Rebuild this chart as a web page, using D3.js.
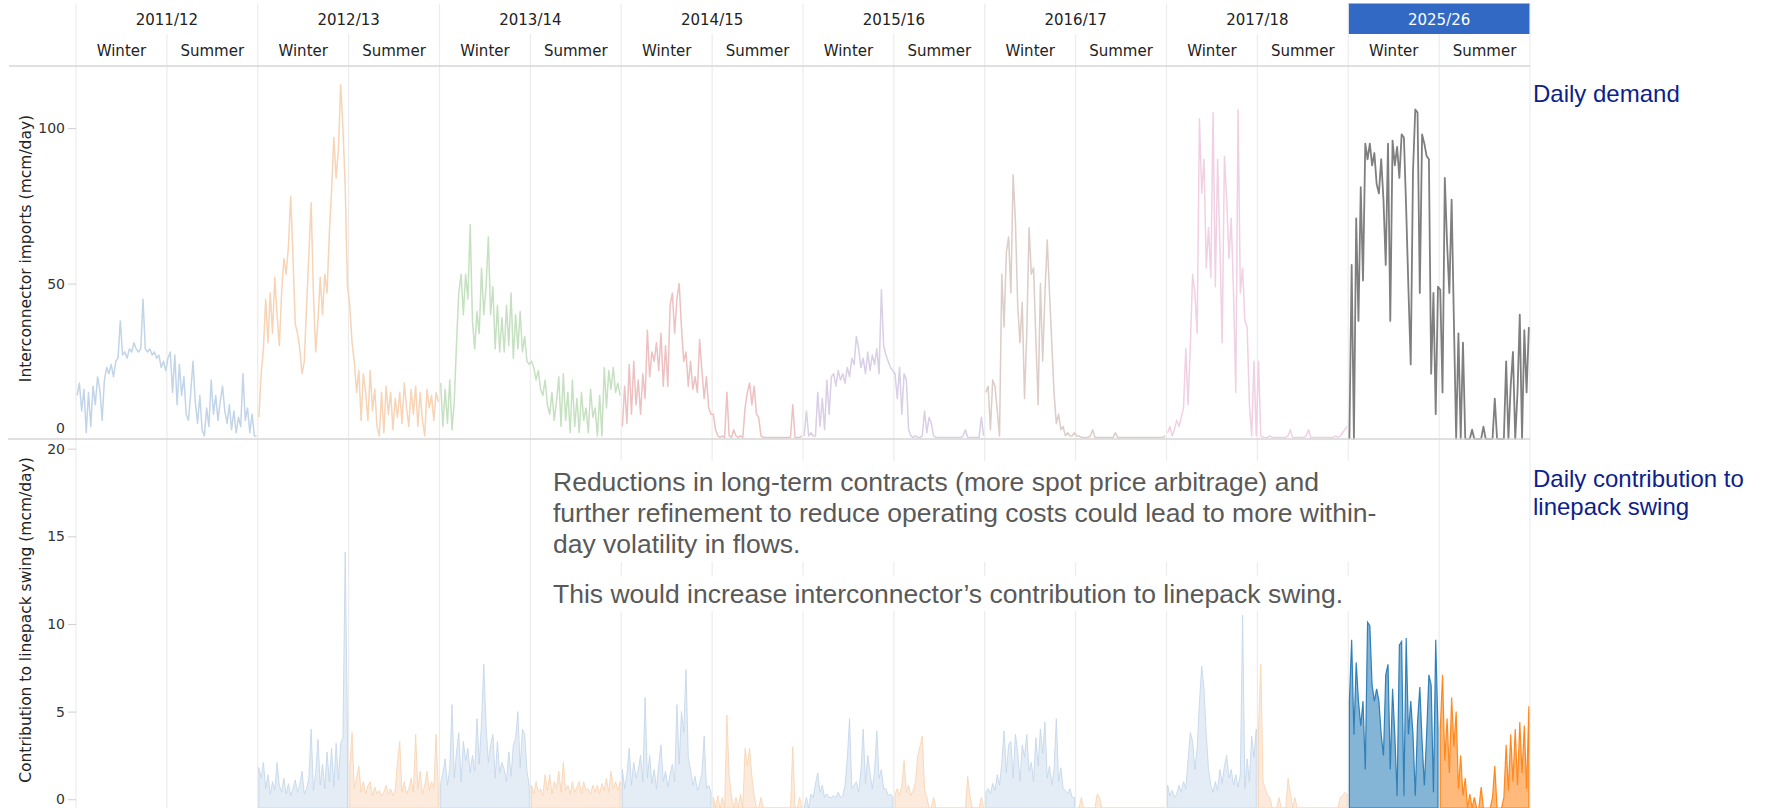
<!DOCTYPE html>
<html>
<head>
<meta charset="utf-8">
<script src="https://cdn.jsdelivr.net/npm/d3@7"></script>
<style>
  body { margin: 0; background: #fff; }
  svg { display: block; }
</style>
</head>
<body>
<svg></svg>
<script>
const years = ["2011/12", "2012/13", "2013/14", "2014/15", "2015/16", "2016/17", "2017/18", "2025/26"];
const seasons = ["Winter", "Summer"];
const importTicks = [0, 50, 100];
const swingTicks = [0, 5, 10, 15, 20];

// interconnector imports (mcm/day), ~40 samples per season
const imports2011W = [14, 18, 9, 16, 2, 15, 4, 17, 11, 20, 16, 6, 19, 23, 21, 24, 20, 25, 26, 38, 27, 28, 26, 29, 28, 31, 29, 28, 29, 45, 29, 28, 29, 27, 28, 26, 27, 23, 25, 22];
const imports2011S = [26, 28, 15, 27, 11, 24, 14, 20, 8, 6, 15, 25, 12, 5, 14, 3, 1, 10, 4, 19, 8, 14, 6, 12, 17, 9, 5, 11, 3, 9, 2, 7, 4, 21, 6, 10, 2, 8, 1, 1];
const imports2012W = [7, 21, 29, 45, 31, 47, 34, 52, 40, 30, 47, 58, 53, 62, 78, 59, 37, 34, 29, 21, 25, 43, 59, 76, 47, 28, 38, 52, 40, 53, 47, 66, 80, 97, 84, 93, 114, 100, 81, 49];
const imports2012S = [43, 31, 25, 15, 22, 6, 21, 15, 6, 22, 9, 16, 4, 1, 15, 2, 17, 8, 15, 3, 13, 7, 15, 5, 18, 10, 4, 16, 8, 17, 4, 15, 6, 1, 16, 10, 14, 6, 15, 12];
const imports2013W = [18, 4, 16, 5, 19, 3, 12, 31, 47, 53, 40, 53, 45, 69, 38, 29, 41, 34, 55, 40, 49, 65, 40, 49, 29, 43, 28, 39, 28, 43, 30, 47, 26, 40, 29, 41, 28, 33, 25, 24];
const imports2013S = [25, 23, 19, 22, 16, 14, 19, 11, 8, 15, 6, 12, 20, 4, 21, 6, 15, 2, 19, 4, 13, 2, 15, 6, 10, 2, 16, 7, 10, 1, 14, 1, 23, 10, 22, 16, 23, 15, 18, 14];
const imports2014W = [4, 17, 5, 24, 8, 25, 11, 19, 8, 21, 13, 35, 20, 28, 25, 31, 22, 34, 17, 30, 17, 43, 47, 34, 45, 50, 36, 25, 28, 17, 25, 16, 20, 15, 32, 22, 13, 20, 10, 8];
const imports2014S = [8, 3, 1, 0.5, 1, 0.5, 15, 1, 0.5, 3, 1, 0.5, 1, 0.5, 10, 15, 18, 11, 17, 8, 7, 1, 0.5, 0.5, 0.5, 0.5, 0.5, 0.5, 0.5, 0.5, 0.5, 0.5, 0.5, 0.5, 0.5, 11, 0.5, 0.5, 0.5, 1];
const imports2015W = [1, 9, 1, 2, 1, 1, 15, 4, 13, 3, 19, 8, 20, 21, 17, 22, 19, 21, 18, 23, 20, 26, 24, 33, 29, 23, 26, 21, 28, 22, 27, 24, 29, 21, 48, 30, 27, 25, 23, 22];
const imports2015S = [21, 13, 23, 8, 21, 19, 3, 1, 0.5, 1, 0.5, 0.5, 1, 9, 2, 7, 5, 1, 0.5, 0.5, 0.5, 0.5, 0.5, 0.5, 0.5, 0.5, 0.5, 0.5, 0.5, 0.5, 1, 3, 0.5, 0.5, 0.5, 0.5, 0.5, 0.5, 7, 1];
const imports2016W = [15, 17, 3, 19, 17, 9, 1, 53, 36, 60, 65, 47, 85, 70, 43, 31, 44, 13, 34, 68, 53, 55, 32, 11, 50, 25, 47, 64, 47, 31, 15, 5, 8, 3, 4, 1, 2, 1, 1, 2];
const imports2016S = [1, 1, 0.5, 0.5, 0.5, 0.5, 1, 3, 0.5, 0.5, 0.5, 0.5, 0.5, 0.5, 0.5, 0.5, 0.5, 2, 0.5, 0.5, 0.5, 0.5, 0.5, 0.5, 0.5, 0.5, 0.5, 0.5, 0.5, 0.5, 0.5, 0.5, 0.5, 0.5, 0.5, 0.5, 0.5, 0.5, 0.5, 1];
const imports2017W = [2, 4, 1, 3, 6, 4, 7, 10, 29, 11, 30, 53, 47, 34, 103, 79, 90, 55, 68, 52, 105, 49, 90, 62, 31, 91, 77, 58, 71, 47, 15, 106, 47, 55, 38, 36, 11, 1, 25, 1];
const imports2017S = [25, 1, 0.5, 0.5, 0.5, 1, 0.5, 0.5, 0.5, 0.5, 0.5, 0.5, 0.5, 1, 3, 0.5, 0.5, 0.5, 0.5, 0.5, 0.5, 1, 3, 0.5, 0.5, 0.5, 0.5, 0.5, 0.5, 0.5, 0.5, 0.5, 0.5, 0.5, 1, 0.5, 1, 2, 3, 4];
const imports2025W = [0, 56, 0, 71, 38, 81, 51, 95, 90, 95, 88, 92, 82, 79, 90, 77, 56, 95, 38, 96, 88, 94, 84, 98, 97, 74, 48, 24, 86, 106, 105, 47, 98, 95, 91, 90, 21, 47, 8, 49];
const imports2025S = [48, 15, 84, 63, 47, 77, 38, 0, 34, 0, 31, 0, 0, 0, 3, 0, 0, 0, 0, 4, 0, 0, 0, 0, 13, 0, 0, 0, 0, 25, 0, 17, 28, 0, 15, 40, 0, 35, 15, 36];

// contribution to linepack swing (mcm/day); no values for 2011/12
const swing2011W = [];
const swing2011S = [];
const swing2012W = [1.8, 1.2, 2.1, 0.6, 1.4, 0.3, 1.0, 0.5, 2.1, 0.8, 0.4, 1.2, 0.3, 0.9, 0.2, 0.6, 1.1, 0.4, 0.8, 1.6, 0.3, 0.6, 1.2, 4.0, 0.5, 1.5, 3.4, 0.8, 2.0, 0.6, 2.7, 1.0, 2.9, 0.7, 3.2, 1.1, 3.2, 3.5, 14.1, 3.7];
const swing2012S = [1.8, 3.8, 0.6, 1.2, 1.9, 0.4, 1.0, 0.3, 0.8, 1.0, 0.2, 0.7, 0.3, 0.5, 0.2, 0.4, 0.8, 0.3, 0.6, 0.2, 0.5, 2.1, 3.3, 0.4, 1.0, 0.3, 0.6, 1.2, 0.4, 3.7, 0.6, 1.6, 0.3, 0.8, 1.6, 0.5, 1.0, 0.6, 3.7, 0.5];
const swing2013W = [0.9, 1.5, 2.3, 0.8, 1.7, 5.4, 1.2, 2.7, 3.8, 1.0, 3.3, 2.2, 2.9, 1.5, 2.5, 1.6, 4.6, 2.0, 4.4, 7.7, 4.2, 2.1, 3.1, 3.7, 1.2, 3.3, 1.5, 2.1, 1.7, 1.0, 2.7, 1.3, 3.1, 3.5, 5.0, 1.8, 4.0, 3.7, 1.6, 0.8];
const swing2013S = [0.8, 0.3, 1.0, 0.4, 0.6, 0.2, 1.4, 0.5, 1.4, 0.3, 1.0, 0.6, 1.6, 0.4, 2.1, 0.5, 0.8, 0.3, 1.0, 0.4, 0.7, 1.0, 0.3, 1.0, 0.5, 0.6, 0.3, 0.8, 0.4, 0.8, 0.3, 0.9, 0.5, 1.2, 0.4, 1.6, 0.6, 1.0, 0.5, 1.0];
const swing2014W = [1.7, 0.6, 1.4, 2.9, 0.8, 2.1, 1.2, 1.7, 2.5, 1.0, 5.8, 1.2, 2.5, 0.9, 1.7, 0.6, 2.0, 3.1, 1.0, 1.6, 0.7, 1.4, 2.0, 1.0, 5.4, 2.0, 5.0, 3.8, 7.4, 2.4, 1.7, 0.8, 1.3, 0.5, 0.9, 1.5, 3.6, 0.6, 0.8, 0.4];
const swing2014S = [0.1, 0, 0.2, 0, 0.1, 0, 4.8, 1.4, 0.2, 0, 0.1, 0, 0.3, 0, 2.9, 1.9, 2.9, 1.3, 0.2, 0, 0, 0.1, 0, 0, 0, 0, 0, 0, 0, 0, 0, 0, 0, 0, 0, 3.0, 0, 0, 0.1, 0];
const swing2015W = [0, 0.1, 0, 0.3, 0.1, 0.9, 1.5, 0.4, 0.8, 0.1, 0.3, 0.1, 0.1, 0.2, 0.1, 0.4, 0.1, 0.2, 0.8, 2.3, 4.6, 0.6, 0.8, 1.0, 0.4, 1.6, 4.0, 0.9, 2.5, 1.5, 0.6, 1.6, 3.9, 1.2, 1.7, 0.6, 0.6, 0.2, 0.3, 0.1];
const swing2015S = [0.3, 0.6, 0.2, 0.8, 2.2, 0.4, 0.8, 0.2, 0.5, 1.0, 2.5, 3.0, 3.6, 0.6, 0.1, 0, 0, 0.1, 0, 0, 0, 0, 0, 0, 0, 0, 0, 0, 0, 0, 0, 0, 1.3, 0.2, 0, 0, 0, 0, 0.1, 0];
const swing2016W = [0.4, 0.6, 0.3, 0.9, 0.5, 1.4, 0.8, 2.1, 3.9, 1.5, 3.1, 3.3, 1.2, 3.7, 2.7, 1.0, 3.1, 2.4, 3.7, 1.6, 2.1, 1.0, 3.5, 1.9, 4.0, 2.6, 4.4, 1.2, 1.9, 0.8, 1.7, 4.6, 1.0, 1.8, 0.6, 0.5, 0.3, 0.6, 0.1, 0.1];
const swing2016S = [0, 0, 0.1, 0, 0, 0, 0, 0, 0, 0.3, 0.1, 0, 0, 0, 0, 0, 0, 0, 0, 0, 0, 0, 0, 0, 0, 0, 0, 0, 0, 0, 0, 0, 0, 0, 0, 0, 0, 0, 0, 0];
const swing2017W = [0.8, 0.2, 0.5, 0.1, 0.3, 0.8, 0.4, 1.0, 0.6, 2.3, 3.8, 3.3, 1.7, 2.9, 5.5, 7.6, 6.3, 3.7, 1.7, 0.8, 0.4, 1.0, 0.5, 1.7, 0.9, 1.9, 2.5, 1.2, 1.7, 0.8, 1.4, 0.7, 1.4, 10.5, 0.6, 2.3, 1.0, 3.6, 2.4, 4.0];
const swing2017S = [4.0, 7.7, 1.0, 0.6, 0.2, 0.1, 0, 0, 0, 0.1, 0, 0, 0, 1.2, 0.4, 0, 0.1, 0, 0, 0, 0, 0, 0, 0, 0, 0, 0, 0, 0, 0, 0, 0, 0, 0, 0, 0, 0.1, 0.2, 0.4, 0.3];
const swing2025W = [5.6, 9.1, 3.7, 7.8, 5.6, 4.2, 5.6, 1.7, 10.1, 9.9, 6.5, 5.6, 6.3, 5.6, 3.7, 2.5, 7.1, 7.7, 1.7, 6.3, 3.7, 0.2, 8.8, 9.0, 0.2, 9.2, 3.7, 5.6, 3.7, 0.2, 4.4, 6.4, 3.3, 0.8, 3.7, 7.1, 6.5, 0.4, 9.1, 4.0];
const swing2025S = [4.0, 7.1, 2.2, 4.6, 1.5, 5.8, 3.0, 5.0, 0.6, 2.5, 0.2, 1.2, 0, 0.3, 0, 0.1, 0, 0, 0.7, 0, 0, 0, 0, 0.1, 1.9, 0, 0, 0, 0.1, 3.1, 0.5, 3.7, 1.0, 4.0, 0.8, 4.4, 1.5, 4.2, 0.6, 5.3];

const note1 = [
  "Reductions in long-term contracts (more spot price arbitrage) and",
  "further refinement to reduce operating costs could lead to more within-",
  "day volatility in flows."
];
const note2 = ["This would increase interconnector\u2019s contribution to linepack swing."];

// built from the arrays above
const importRows = [
  [imports2011W, imports2011S], [imports2012W, imports2012S], [imports2013W, imports2013S],
  [imports2014W, imports2014S], [imports2015W, imports2015S], [imports2016W, imports2016S],
  [imports2017W, imports2017S], [imports2025W, imports2025S]
];
const swingRows = [
  [swing2011W, swing2011S], [swing2012W, swing2012S], [swing2013W, swing2013S],
  [swing2014W, swing2014S], [swing2015W, swing2015S], [swing2016W, swing2016S],
  [swing2017W, swing2017S], [swing2025W, swing2025S]
];

const yearColors = ["#c2d5e8", "#f7d4b5", "#c6e1c1", "#edc1c2", "#d9cfe6", "#dccdc8", "#f1d0e4", "#7f7f7f"];
const GRID = "#ececec";
const RULE = "#d6d6d6";
const UI_FONT = "DejaVu Sans, Verdana, sans-serif";
const NOTE_FONT = "Liberation Sans, Arial, sans-serif";

const width = 1765, height = 808;
const plotLeft = 76, plotRight = 1530;
const headTop = 3.5, seasonTop = 34, headBottom = 66, panelSplit = 439;

const svg = d3.select("svg").attr("width", width).attr("height", height);

const seasonKeys = years.flatMap(y => seasons.map(s => y + "|" + s));
const x = d3.scaleBand().domain(seasonKeys).range([plotLeft, plotRight]);
const bw = x.bandwidth();
const yTop = d3.scaleLinear().domain([0, 120]).range([panelSplit, headBottom]);
const yBot = d3.scaleLinear().domain([-0.5, 20.55]).range([height, panelSplit]);

function samplePoints(key, values) {
  const step = bw / values.length;
  return values.map((v, i) => ({ x: x(key) + (i + 0.5) * step, v }));
}

// highlighted year in header
const lastYear = years[years.length - 1];
svg.append("rect")
  .attr("x", x(lastYear + "|Winter"))
  .attr("y", headTop)
  .attr("width", bw * 2)
  .attr("height", seasonTop - headTop)
  .attr("fill", "#3169c4");

// vertical grid / header dividers
const bounds = seasonKeys.map(k => x(k)).concat([plotRight]);
svg.append("g").selectAll("line")
  .data(bounds)
  .enter().append("line")
  .attr("x1", d => d).attr("x2", d => d)
  .attr("y1", (d, i) => i % 2 === 0 ? headTop : seasonTop)
  .attr("y2", height)
  .attr("stroke", GRID)
  .attr("stroke-width", 1.2);

// header texts
svg.append("g").selectAll("text")
  .data(years)
  .enter().append("text")
  .attr("x", d => x(d + "|Winter") + bw)
  .attr("y", 25)
  .attr("text-anchor", "middle")
  .attr("font-family", UI_FONT)
  .attr("font-size", 15)
  .attr("fill", (d, i) => i === years.length - 1 ? "#ffffff" : "#222")
  .text(d => d);

svg.append("g").selectAll("text")
  .data(seasonKeys)
  .enter().append("text")
  .attr("x", d => x(d) + bw / 2)
  .attr("y", 56)
  .attr("text-anchor", "middle")
  .attr("font-family", UI_FONT)
  .attr("font-size", 15)
  .attr("fill", "#222")
  .text(d => d.split("|")[1]);

// horizontal rules
svg.append("line")
  .attr("x1", 9).attr("x2", plotRight)
  .attr("y1", headBottom).attr("y2", headBottom)
  .attr("stroke", RULE).attr("stroke-width", 1.5);

// annotation backgrounds (they hide the grid lines behind the text)
svg.append("rect").attr("x", 545).attr("y", 461).attr("width", 862).attr("height", 101).attr("fill", "#fff");
svg.append("rect").attr("x", 545).attr("y", 576).attr("width", 805).attr("height", 35).attr("fill", "#fff");

// bottom panel: contribution to linepack swing
const swingArea = d3.area()
  .x(d => d.x)
  .y0(yBot.range()[0])
  .y1(d => d.v > 0 ? yBot(d.v) : yBot.range()[0]);

swingRows.forEach((pair, yi) => {
  pair.forEach((vals, si) => {
    if (!vals.length) return;
    const last = yi === years.length - 1;
    const color = last ? (si === 0 ? "#1f77b4" : "#ff7f0e") : (si === 0 ? "#c3d6ea" : "#f8d3b2");
    const pts = samplePoints(years[yi] + "|" + seasons[si], vals);
    svg.append("path")
      .datum(pts)
      .attr("d", swingArea)
      .attr("fill", color)
      .attr("fill-opacity", last ? 0.55 : 0.45)
      .attr("stroke", color)
      .attr("stroke-opacity", last ? 0.9 : 0.85)
      .attr("stroke-width", last ? 1.2 : 1);
  });
});

// top panel: interconnector imports
const importLine = d3.line().x(d => d.x).y(d => yTop(d.v));
importRows.forEach((pair, yi) => {
  const pts = samplePoints(years[yi] + "|Winter", pair[0])
    .concat(samplePoints(years[yi] + "|Summer", pair[1]));
  svg.append("path")
    .datum(pts)
    .attr("d", importLine)
    .attr("fill", "none")
    .attr("stroke", yearColors[yi])
    .attr("stroke-width", yi === years.length - 1 ? 1.8 : 1.5)
    .attr("stroke-linejoin", "round");
});

svg.append("line")
  .attr("x1", 8).attr("x2", plotRight)
  .attr("y1", panelSplit).attr("y2", panelSplit)
  .attr("stroke", RULE).attr("stroke-width", 1.5);

// axes
function styleAxis(g) {
  g.select(".domain").remove();
  g.selectAll(".tick line").attr("stroke", "#cfcfcf");
  g.selectAll(".tick text")
    .attr("font-family", UI_FONT)
    .attr("font-size", 14)
    .attr("fill", "#333");
}

const axTop = svg.append("g")
  .attr("transform", `translate(${plotLeft},0)`)
  .call(d3.axisLeft(yTop).tickValues(importTicks).tickSize(8).tickPadding(3))
  .call(styleAxis);
axTop.selectAll(".tick").filter(d => d === 0).select("line").remove();
axTop.selectAll(".tick").filter(d => d === 0).select("text").attr("y", -11);

svg.append("g")
  .attr("transform", `translate(${plotLeft},0)`)
  .call(d3.axisLeft(yBot).tickValues(swingTicks).tickSize(8).tickPadding(3))
  .call(styleAxis);

svg.append("text")
  .attr("transform", `translate(31,${(yTop(0) + yTop(120)) / 2 - 4}) rotate(-90)`)
  .attr("text-anchor", "middle")
  .attr("font-family", UI_FONT)
  .attr("font-size", 15.5)
  .attr("fill", "#222")
  .text("Interconnector imports (mcm/day)");

svg.append("text")
  .attr("transform", `translate(31,620) rotate(-90)`)
  .attr("text-anchor", "middle")
  .attr("font-family", UI_FONT)
  .attr("font-size", 15.5)
  .attr("fill", "#222")
  .text("Contribution to linepack swing (mcm/day)");

// annotation
svg.append("g").selectAll("text")
  .data(note1)
  .enter().append("text")
  .attr("x", 553)
  .attr("y", (d, i) => 491 + i * 31)
  .attr("font-family", NOTE_FONT)
  .attr("font-size", 26.5)
  .attr("fill", "#595959")
  .text(d => d);

svg.append("g").selectAll("text")
  .data(note2)
  .enter().append("text")
  .attr("x", 553)
  .attr("y", 603)
  .attr("font-family", NOTE_FONT)
  .attr("font-size", 26.5)
  .attr("fill", "#595959")
  .text(d => d);

// panel titles on the right
const rightLabels = [
  { lines: ["Daily demand"], y: 102 },
  { lines: ["Daily contribution to", "linepack swing"], y: 487 }
];
rightLabels.forEach(lab => {
  svg.append("g").selectAll("text")
    .data(lab.lines)
    .enter().append("text")
    .attr("x", 1533)
    .attr("y", (d, i) => lab.y + i * 28)
    .attr("font-family", NOTE_FONT)
    .attr("font-size", 24)
    .attr("fill", "#0e1e8c")
    .text(d => d);
});
</script>
</body>
</html>
